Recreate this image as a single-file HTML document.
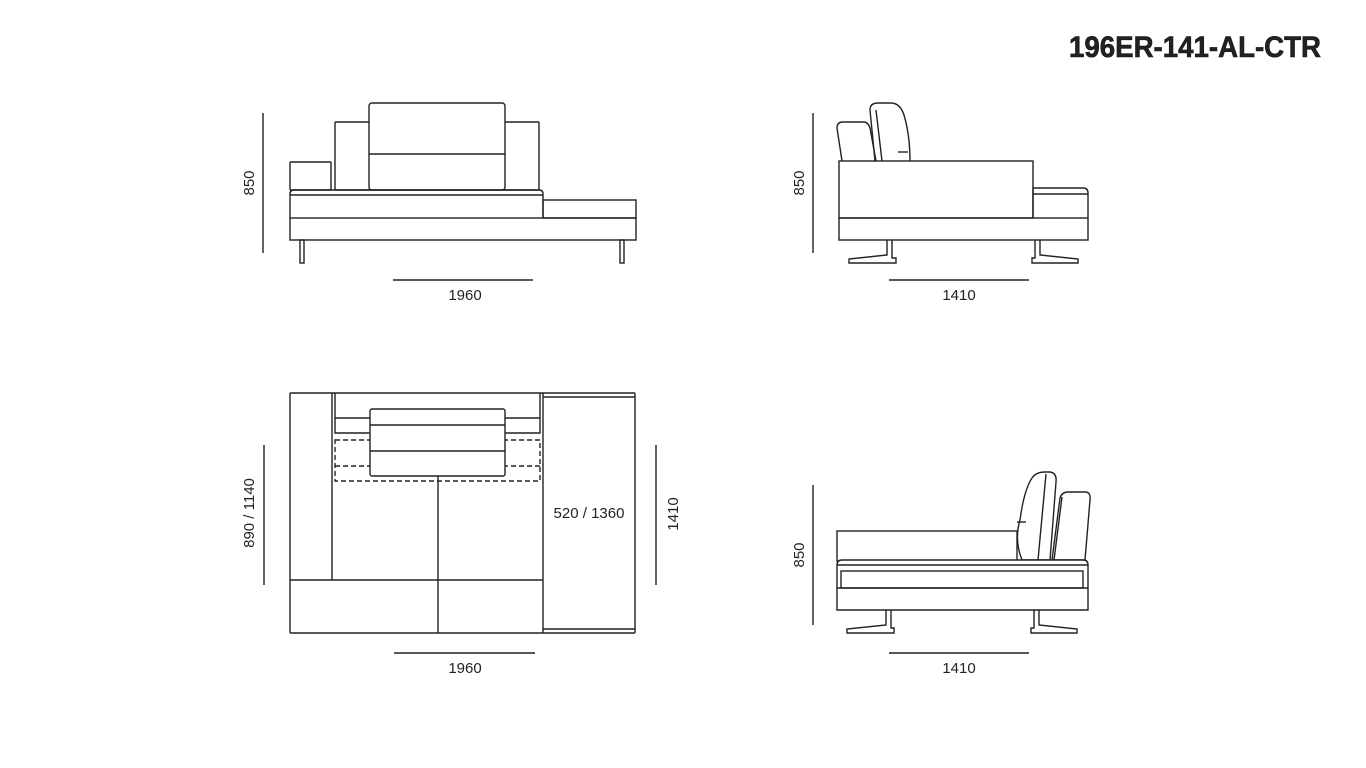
<!DOCTYPE html>
<html><head><meta charset="utf-8"><style>
html,body{margin:0;padding:0;background:#fff;}
svg{display:block;}
text{font-family:"Liberation Sans",sans-serif;fill:#222;}
</style></head><body>
<svg width="1366" height="768" viewBox="0 0 1366 768" xmlns="http://www.w3.org/2000/svg">
<text x="1069" y="57" font-size="30" font-weight="bold" textLength="252" lengthAdjust="spacingAndGlyphs" fill="#111" stroke="#111" stroke-width="0.6">196ER-141-AL-CTR</text>
<g fill="none" stroke="#222" stroke-width="1.4">
<!-- FRONT VIEW -->
<line x1="263" y1="113" x2="263" y2="253"/>
<line x1="393" y1="280" x2="533" y2="280"/>
<rect x="290" y="162" width="41" height="28" rx="1"/>
<rect x="335" y="122" width="204" height="68" rx="1"/>
<rect x="369" y="103" width="136" height="87" rx="3" fill="#fff"/>
<line x1="369" y1="154" x2="505" y2="154"/>
<path d="M290 218 V194 Q290 190 294 190 H539 Q543 190 543 194 V218"/>
<line x1="290" y1="195" x2="543" y2="195"/>
<rect x="543" y="200" width="93" height="18"/>
<rect x="290" y="218" width="346" height="22"/>
<rect x="300" y="240" width="4" height="23"/>
<rect x="620" y="240" width="4" height="23"/>
<!-- SIDE VIEW TOP -->
<line x1="813" y1="113" x2="813" y2="253"/>
<line x1="889" y1="280" x2="1029" y2="280"/>
<path d="M842 161 L837 128 Q837 122 843 122 H864 Q868 122 870 128 L876 161"/>
<path d="M875 161 L870 110 Q870 103 878 103 H891 Q900 103 904 115 Q910 135 910 161"/>
<line x1="876" y1="110" x2="882" y2="161"/>
<line x1="898" y1="152" x2="908" y2="152"/>
<rect x="839" y="161" width="194" height="57" fill="#fff"/>
<path d="M1033 218 V188 H1083 Q1088 188 1088 193 V218"/>
<line x1="1033" y1="194" x2="1088" y2="194"/>
<rect x="839" y="218" width="249" height="22"/>
<path d="M887 240 V255 L849 259 V263 H896 V258 H892 V240"/>
<path d="M1035 240 V258 H1032 V263 H1078 V259 L1040 255 V240"/>
<!-- PLAN -->
<line x1="264" y1="445" x2="264" y2="585"/>
<line x1="656" y1="445" x2="656" y2="585"/>
<line x1="394" y1="653" x2="535" y2="653"/>
<rect x="290" y="393" width="345" height="240" rx="1"/>
<line x1="332" y1="393" x2="332" y2="580"/>
<line x1="290" y1="580" x2="543" y2="580"/>
<line x1="543" y1="393" x2="543" y2="633"/>
<line x1="543" y1="397" x2="635" y2="397"/>
<line x1="543" y1="629" x2="635" y2="629"/>
<path d="M335 393 V433 H540 V393"/>
<line x1="335" y1="418" x2="540" y2="418"/>
<line x1="438" y1="476" x2="438" y2="633"/>
<rect x="335" y="440" width="205" height="41" stroke-dasharray="5,3"/>
<line x1="335" y1="466" x2="540" y2="466" stroke-dasharray="5,3"/>
<rect x="370" y="409" width="135" height="67" rx="2" fill="#fff"/>
<line x1="370" y1="425" x2="505" y2="425"/>
<line x1="370" y1="451" x2="505" y2="451"/>
<!-- SIDE VIEW BOTTOM -->
<line x1="813" y1="485" x2="813" y2="625"/>
<line x1="889" y1="653" x2="1029" y2="653"/>
<rect x="837" y="531" width="180" height="30"/>
<path d="M1022 560 Q1014 540 1020 520 Q1024 490 1032 478 Q1036 472 1045 472 H1050 Q1057 473 1056 482 L1050 560 Z" fill="#fff"/>
<line x1="1046" y1="474" x2="1038" y2="560"/>
<line x1="1017" y1="522" x2="1026" y2="522"/>
<path d="M1052 560 L1060 498 Q1062 492 1068 492 H1085 Q1091 492 1090 500 L1085 560 Z" fill="#fff"/>
<line x1="1062" y1="497" x2="1054" y2="560"/>
<path d="M837 610 V565 Q837 560 842 560 H1083 Q1088 560 1088 565 V610 Z" fill="#fff"/>
<line x1="837" y1="565" x2="1088" y2="565"/>
<rect x="841" y="571" width="242" height="17"/>
<line x1="837" y1="588" x2="1088" y2="588"/>
<path d="M886 610 V625 L847 629 V633 H894 V628 H891 V610"/>
<path d="M1034 610 V628 H1031 V633 H1077 V629 L1039 625 V610"/>
</g>
<g font-size="15">
<text x="465" y="300" text-anchor="middle">1960</text>
<text x="959" y="300" text-anchor="middle">1410</text>
<text x="465" y="673" text-anchor="middle">1960</text>
<text x="959" y="673" text-anchor="middle">1410</text>
<text x="589" y="518" text-anchor="middle">520 / 1360</text>
<text transform="translate(254,183) rotate(-90)" text-anchor="middle">850</text>
<text transform="translate(804,183) rotate(-90)" text-anchor="middle">850</text>
<text transform="translate(804,555) rotate(-90)" text-anchor="middle">850</text>
<text transform="translate(254,513) rotate(-90)" text-anchor="middle">890 / 1140</text>
<text transform="translate(678,514) rotate(-90)" text-anchor="middle">1410</text>
</g>
</svg>
</body></html>
